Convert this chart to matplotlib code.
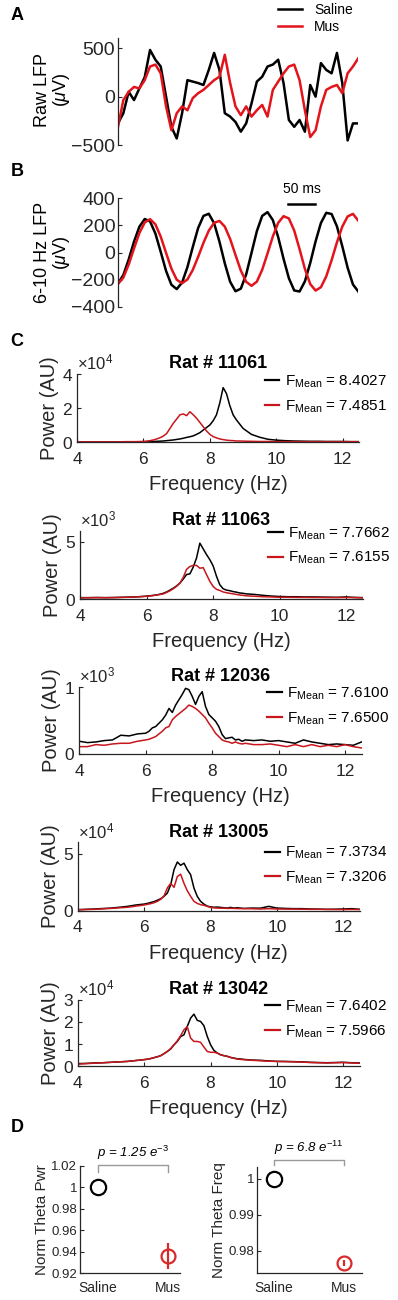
import matplotlib
matplotlib.use('Agg')
import matplotlib.pyplot as plt
import numpy as np
from matplotlib.ticker import ScalarFormatter

plt.rcParams['font.family'] = ['Liberation Sans', 'DejaVu Sans']
plt.rcParams['mathtext.fontset'] = 'custom'
plt.rcParams['mathtext.rm'] = 'Liberation Sans'
plt.rcParams['mathtext.it'] = 'Liberation Sans:italic'
plt.rcParams['mathtext.bf'] = 'Liberation Sans:bold'

# ---------------- data ----------------
# A/B: LFP traces sampled every 10 ms
lfp_time_ms = list(range(0, 451, 10))
raw_saline = [-275, -170, 50, -35, 85, 200, 480, 380, 310, 0, -310, -430, -170, 170, 155, 140,
              120, 275, 450, 275, -170, -205, -260, -360, -275, -70, 155, 205, 310, 330, 380, 140,
              -240, -310, -240, -360, 120, 0, 345, 275, 240, 450, 140, -450, -275, -275]
raw_mus = [-310, -35, 50, 100, 85, 170, 310, 330, 240, -100, -345, -170, -100, -140, -15, 35,
           70, 120, 170, 205, 430, 140, -100, -190, -100, -205, -140, -85, -205, 70, 155, 240,
           310, 330, 170, -140, -415, -345, -100, 70, 100, 120, 35, 240, 310, 395]
filt_saline = [-229, -166, -52, 80, 190, 247, 230, 140, 5, -136, -238, -270, -222, -108, 40, 180,
               270, 286, 216, 80, -80, -216, -286, -267, -162, -3, 157, 270, 298, 239, 113, -46,
               -190, -280, -288, -213, -77, 82, 218, 293, 284, 193, 46, -112, -236, -288]
filt_mus = [-232, -185, -89, 30, 143, 221, 246, 208, 117, -3, -119, -201, -227, -199, -129, -33,
            71, 161, 219, 233, 191, 100, -18, -133, -216, -246, -215, -128, -7, 119, 219, 268,
            251, 162, 25, -121, -233, -281, -256, -176, -57, 75, 191, 266, 285, 235]

# C: power spectra (in units of 10^exp)
psd_freq = [4.0, 4.25, 4.5, 4.75, 5.0, 5.25, 5.5, 5.75,
            6.0, 6.1, 6.2, 6.3, 6.4, 6.5, 6.6, 6.7, 6.8, 6.9,
            7.0, 7.1, 7.2, 7.3, 7.4, 7.5, 7.6, 7.7, 7.8, 7.9,
            8.0, 8.1, 8.2, 8.3, 8.4, 8.5, 8.6, 8.7, 8.8, 8.9,
            9.0, 9.25, 9.5, 9.75, 10.0, 10.25, 10.5, 10.75,
            11.0, 11.25, 11.5, 11.75, 12.0, 12.25, 12.5]
sal_11061 = [0.01, 0.01, 0.01, 0.01, 0.01, 0.01, 0.01, 0.01,
             0.02, 0.02, 0.03, 0.03, 0.04, 0.05, 0.06, 0.08, 0.10, 0.12,
             0.15, 0.18, 0.22, 0.27, 0.31, 0.36, 0.45, 0.55, 0.70, 0.85,
             1.00, 1.25, 1.60, 2.30, 3.20, 2.85, 2.15, 1.60, 1.30, 1.05,
             0.80, 0.45, 0.28, 0.16, 0.11, 0.08, 0.06, 0.05,
             0.04, 0.04, 0.03, 0.03, 0.03, 0.02, 0.02]
mus_11061 = [0.01, 0.01, 0.01, 0.01, 0.01, 0.01, 0.02, 0.02,
             0.03, 0.05, 0.08, 0.12, 0.18, 0.25, 0.35, 0.50, 0.80, 1.10,
             1.35, 1.60, 1.65, 1.55, 1.78, 1.60, 1.40, 1.15, 0.90, 0.65,
             0.45, 0.32, 0.24, 0.18, 0.14, 0.11, 0.09, 0.08, 0.06, 0.06,
             0.05, 0.04, 0.03, 0.03, 0.02, 0.02, 0.02, 0.02,
             0.02, 0.02, 0.02, 0.02, 0.02, 0.02, 0.02]
sal_11063 = [0.12, 0.12, 0.13, 0.12, 0.13, 0.15, 0.17, 0.20,
             0.25, 0.28, 0.32, 0.36, 0.42, 0.50, 0.62, 0.78, 0.95, 1.15,
             1.40, 1.75, 2.15, 2.20, 2.80, 3.60, 4.90, 4.40, 3.90, 3.45,
             2.90, 2.00, 1.25, 0.90, 0.78, 0.73, 0.65, 0.60, 0.53, 0.50,
             0.45, 0.40, 0.32, 0.26, 0.22, 0.20, 0.20, 0.18,
             0.18, 0.17, 0.16, 0.15, 0.18, 0.14, 0.12]
mus_11063 = [0.10, 0.11, 0.12, 0.11, 0.12, 0.14, 0.16, 0.19,
             0.24, 0.27, 0.30, 0.35, 0.40, 0.45, 0.58, 0.72, 0.90, 1.12,
             1.40, 1.90, 2.60, 2.85, 2.95, 2.95, 2.70, 2.75, 2.15, 1.55,
             1.10, 0.85, 0.75, 0.62, 0.55, 0.50, 0.45, 0.40, 0.35, 0.32,
             0.28, 0.24, 0.20, 0.18, 0.15, 0.15, 0.14, 0.14,
             0.13, 0.13, 0.12, 0.12, 0.13, 0.12, 0.10]
sal_12036 = [0.19, 0.17, 0.18, 0.20, 0.21, 0.28, 0.27, 0.30,
             0.31, 0.34, 0.39, 0.41, 0.46, 0.51, 0.58, 0.68, 0.62, 0.73,
             0.81, 0.89, 0.98, 0.96, 0.86, 0.74, 0.86, 0.93, 0.71, 0.59,
             0.54, 0.49, 0.41, 0.29, 0.23, 0.24, 0.25, 0.21, 0.22, 0.19,
             0.21, 0.20, 0.21, 0.19, 0.20, 0.18, 0.16, 0.21,
             0.18, 0.16, 0.14, 0.15, 0.14, 0.13, 0.18]
mus_12036 = [0.11, 0.11, 0.14, 0.13, 0.15, 0.16, 0.16, 0.19,
             0.21, 0.22, 0.24, 0.26, 0.30, 0.34, 0.39, 0.41, 0.51, 0.56,
             0.60, 0.64, 0.68, 0.73, 0.71, 0.68, 0.64, 0.59, 0.54, 0.46,
             0.39, 0.31, 0.26, 0.21, 0.19, 0.18, 0.16, 0.18, 0.16, 0.15,
             0.16, 0.14, 0.14, 0.15, 0.13, 0.11, 0.14, 0.11,
             0.14, 0.11, 0.13, 0.11, 0.14, 0.11, 0.09]
sal_13005 = [0.09, 0.12, 0.15, 0.19, 0.23, 0.30, 0.38, 0.50,
             0.58, 0.64, 0.72, 0.80, 0.92, 1.05, 1.26, 1.55, 2.27, 3.60,
             4.27, 3.98, 4.17, 3.60, 3.16, 1.99, 1.26, 0.82, 0.58, 0.40,
             0.34, 0.30, 0.32, 0.29, 0.26, 0.23, 0.29, 0.23, 0.26, 0.23,
             0.20, 0.23, 0.22, 0.38, 0.23, 0.20, 0.18, 0.18,
             0.15, 0.14, 0.12, 0.13, 0.15, 0.18, 0.12]
mus_13005 = [0.08, 0.10, 0.12, 0.16, 0.20, 0.25, 0.30, 0.40,
             0.50, 0.56, 0.62, 0.70, 0.82, 1.00, 1.30, 2.00, 2.40, 2.05,
             3.00, 3.20, 2.40, 1.75, 1.26, 0.82, 0.64, 0.53, 0.47, 0.38,
             0.29, 0.25, 0.23, 0.22, 0.22, 0.20, 0.21, 0.20, 0.19, 0.18,
             0.18, 0.17, 0.15, 0.18, 0.15, 0.14, 0.14, 0.13,
             0.12, 0.12, 0.11, 0.10, 0.10, 0.11, 0.10]
sal_13042 = [0.12, 0.13, 0.15, 0.16, 0.18, 0.20, 0.22, 0.26,
             0.30, 0.32, 0.35, 0.39, 0.43, 0.48, 0.57, 0.67, 0.78, 0.97,
             1.12, 1.34, 1.42, 1.80, 2.17, 2.35, 2.07, 2.02, 1.83, 1.35,
             0.97, 0.72, 0.60, 0.52, 0.48, 0.45, 0.40, 0.37, 0.34, 0.33,
             0.31, 0.28, 0.27, 0.24, 0.22, 0.22, 0.21, 0.20,
             0.18, 0.17, 0.16, 0.17, 0.18, 0.16, 0.15]
mus_13042 = [0.10, 0.12, 0.14, 0.16, 0.18, 0.20, 0.22, 0.26,
             0.30, 0.32, 0.35, 0.39, 0.43, 0.48, 0.57, 0.67, 0.80, 0.97,
             1.15, 1.38, 1.65, 1.78, 1.27, 1.12, 1.12, 1.08, 0.87, 0.67,
             0.63, 0.63, 0.60, 0.52, 0.48, 0.45, 0.40, 0.36, 0.33, 0.31,
             0.30, 0.27, 0.25, 0.23, 0.22, 0.21, 0.20, 0.19,
             0.17, 0.16, 0.15, 0.16, 0.17, 0.15, 0.14]
rat_ids = ['11061', '11063', '12036', '13005', '13042']
power_exp = [4, 3, 3, 4, 4]
fmean_saline = ['8.4027', '7.7662', '7.6100', '7.3734', '7.6402']
fmean_mus = ['7.4851', '7.6155', '7.6500', '7.3206', '7.5966']

# D: normalised theta power / frequency
groups = ['Saline', 'Mus']
pwr_mean = [1.0, 0.936]
pwr_err = [0.0, 0.0125]
freq_mean = [1.0, 0.9767]
freq_err = [0.0, 0.0008]

# ---------------- styling ----------------
W, H = 398, 1300
RED_AB = '#e3141c'
RED_C = '#c8161d'
RED_D = '#d82a2a'
AXC = '#262626'

fig = plt.figure(figsize=(W / 100, H / 100), dpi=100)


def px_axes(left, top, right, bottom):
    return fig.add_axes([left / W, 1 - bottom / H, (right - left) / W, (bottom - top) / H])


def style(ax, hide_bottom=False):
    for s in ['top', 'right']:
        ax.spines[s].set_visible(False)
    for s in ['left', 'bottom']:
        ax.spines[s].set_color(AXC)
        ax.spines[s].set_linewidth(0.9)
    if hide_bottom:
        ax.spines['bottom'].set_visible(False)
        ax.set_xticks([])
    ax.tick_params(direction='in', length=3, width=0.8, color=AXC, labelcolor=AXC)


# ---- A ----
axA = px_axes(118, 38.3, 358.3, 145.3)
lA1, = axA.plot(lfp_time_ms, raw_saline, color='black', lw=1.8)
lA2, = axA.plot(lfp_time_ms, raw_mus, color=RED_AB, lw=1.8)
axA.set_xlim(0, 450)
axA.set_ylim(-500, 600)
axA.set_yticks([-500, 0, 500])
style(axA, hide_bottom=True)
axA.tick_params(axis='y', labelsize=14, pad=2)
axA.set_ylabel('Raw LFP\n($\\mu$V)', fontsize=13, linespacing=1.0)
axA.yaxis.set_label_coords(-0.19, 0.52)
fig.legend([lA1, lA2], ['Saline', 'Mus'], loc='upper left',
           bbox_to_anchor=(278 / W, 1 - 3 / H), frameon=False, borderpad=0,
           borderaxespad=0, handlelength=1.7, handletextpad=0.9,
           labelspacing=0.2, fontsize=10)

# ---- B ----
axB = px_axes(118, 198.3, 358.3, 306.7)
axB.plot(lfp_time_ms, filt_saline, color='black', lw=1.8)
axB.plot(lfp_time_ms, filt_mus, color=RED_AB, lw=1.8)
axB.set_xlim(0, 450)
axB.set_ylim(-400, 400)
axB.set_yticks([-400, -200, 0, 200, 400])
style(axB, hide_bottom=True)
axB.tick_params(axis='y', labelsize=14, pad=2)
axB.set_ylabel('6-10 Hz LFP\n($\\mu$V)', fontsize=13, linespacing=1.0)
axB.yaxis.set_label_coords(-0.19, 0.5)
# 50 ms scale bar
axB.plot([319, 369], [357, 357], color='black', lw=1.8, clip_on=False)
axB.text(344, 470, '50 ms', ha='center', va='center', fontsize=10)

# ---- C ----
c_boxes = [(77, 374, 359.3, 442), (80.3, 530.6, 362.6, 599), (79.3, 687, 361.6, 754),
           (77.7, 842.3, 360, 910.7), (77.7, 999.7, 360, 1066.3)]
c_ymax = [4, 6, 1, 6, 3]
c_ticks = [[0, 2, 4], [0, 5], [0, 1], [0, 5], [0, 1, 2, 3]]
c_leg_y = [1.01, 1.08, 1.02, 0.96, 1.02]
sal_sets = [sal_11061, sal_11063, sal_12036, sal_13005, sal_13042]
mus_sets = [mus_11061, mus_11063, mus_12036, mus_13005, mus_13042]

for i in range(5):
    ax = px_axes(*c_boxes[i])
    scale = 10 ** power_exp[i]
    l1, = ax.plot(psd_freq, np.array(sal_sets[i]) * scale, color='black', lw=1.1)
    l2, = ax.plot(psd_freq, np.array(mus_sets[i]) * scale, color=RED_C, lw=1.1)
    ax.set_xlim(4, 12.5)
    ax.set_ylim(0, c_ymax[i] * scale)
    ax.set_xticks([4, 6, 8, 10, 12])
    ax.set_yticks([v * scale for v in c_ticks[i]])
    fmt = ScalarFormatter(useMathText=True)
    fmt.set_powerlimits((0, 0))
    ax.yaxis.set_major_formatter(fmt)
    style(ax)
    ax.tick_params(axis='x', labelsize=12.5, pad=7)
    ax.tick_params(axis='y', labelsize=12.5, pad=3)
    ax.yaxis.get_offset_text().set_fontsize(12)
    ax.yaxis.get_offset_text().set_color(AXC)
    ax.set_xlabel('Frequency (Hz)', fontsize=14.5, labelpad=6, color=AXC)
    ax.set_ylabel('Power (AU)', fontsize=14.5, labelpad=2, color=AXC)
    ax.set_title('Rat # ' + rat_ids[i], fontsize=13, fontweight='bold', pad=4)
    ax.legend([l1, l2], ['F$_{\\mathrm{Mean}}$ = ' + fmean_saline[i],
                         'F$_{\\mathrm{Mean}}$ = ' + fmean_mus[i]],
              loc='upper left', bbox_to_anchor=(0.665, c_leg_y[i]), frameon=False,
              borderpad=0, borderaxespad=0, handlelength=0.95, handletextpad=0.35,
              labelspacing=0.55, fontsize=11)
    for leg_line in ax.get_legend().get_lines():
        leg_line.set_linewidth(1.6)

# ---- D ----
d_specs = [
    ((80, 1166, 180, 1273), pwr_mean, pwr_err, (0.74, 2.17), (0.92, 1.02),
     [0.92, 0.94, 0.96, 0.98, 1.0, 1.02], ['0.92', '0.94', '0.96', '0.98', '1', '1.02'],
     'Norm Theta Pwr', 'p = 1.25 e$^{\\mathit{-3}}$', (1.0206, 1.0144)),
    ((257, 1166.7, 362, 1273), freq_mean, freq_err, (0.757, 2.257), (0.9739, 1.0033),
     [0.98, 0.99, 1.0], ['0.98', '0.99', '1'],
     'Norm Theta Freq', 'p = 6.8 e$^{\\mathit{-11}}$', (1.0052, 1.0038)),
]
for box, means, errs, xl, yl, yt, ytl, ylab, ptxt, (ytop, yleg) in d_specs:
    ax = px_axes(*box)
    for k, g in enumerate(groups):
        col = 'black' if k == 0 else RED_D
        ax.errorbar([k + 1], [means[k]], yerr=[errs[k]], fmt='o', mfc='none', mec=col,
                    ecolor=col, ms=11 if k == 0 else 10, mew=1.6, elinewidth=1.6, capsize=0)
    ax.set_xlim(*xl)
    ax.set_ylim(*yl)
    ax.set_xticks([1, 2])
    ax.set_xticklabels(groups)
    ax.set_yticks(yt)
    ax.set_yticklabels(ytl)
    style(ax)
    ax.tick_params(axis='x', labelsize=10, pad=6, length=0)
    ax.tick_params(axis='y', labelsize=9.5, pad=2)
    ax.set_ylabel(ylab, fontsize=11, labelpad=2, color=AXC)
    ax.plot([1, 1, 2, 2], [yleg, ytop, ytop, yleg], color='#9a9a9a', lw=1.0, clip_on=False)
    ax.text(1.5, ytop + (yl[1] - yl[0]) * 0.03, ptxt, ha='center', va='bottom',
            fontsize=9.5, style='italic')

# panel letters
for letter, ypx in [('A', 16), ('B', 172), ('C', 342), ('D', 1128)]:
    fig.text(17 / W, 1 - ypx / H, letter, fontsize=13, fontweight='bold', ha='center', va='center')

fig.savefig('out.png', dpi=100)
